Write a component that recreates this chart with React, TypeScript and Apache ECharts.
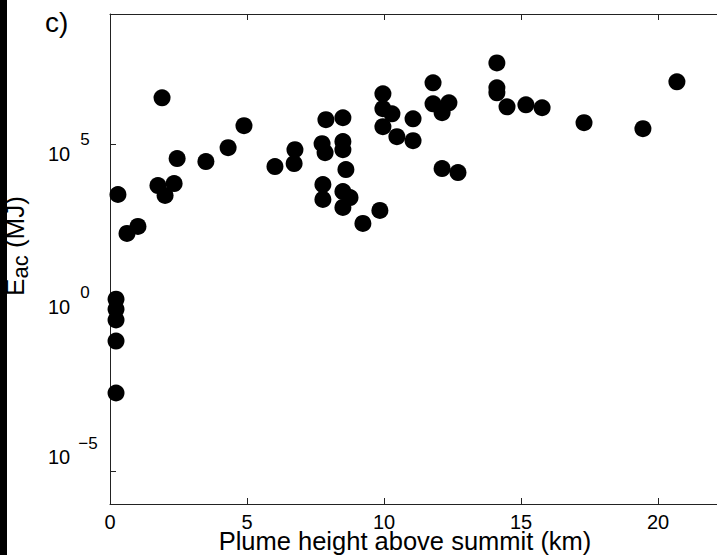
import React, { useEffect, useRef } from "react";
import * as echarts from "echarts";

// Plume height above summit (km)
const plumeHeightKm = [
  0.22, 0.22, 0.22, 0.22, 0.22, 0.29, 0.62, 1.02, 1.75, 2.01,
  2.34, 2.45, 3.5, 4.31, 1.9, 4.89, 6.02, 6.75, 6.72, 7.88,
  8.5, 7.74, 7.85, 8.5, 8.5, 8.61, 7.77, 7.77, 8.5, 8.76,
  8.5, 9.23, 9.85, 9.96, 9.96, 10.29, 9.96, 10.47, 11.06, 11.06,
  11.79, 11.79, 12.12, 12.37, 12.12, 12.7, 14.12, 14.12, 14.12, 14.49,
  15.18, 15.77, 17.3, 19.45, 20.69,
];

// Acoustic energy E_ac (MJ)
const energyMJ = [
  1.86, 0.92, 0.43, 0.097, 0.0025, 2980, 192, 315, 5600, 2780,
  6450, 37400, 30300, 81000, 2.72e6, 3.8e5, 21300, 70400, 26300, 5.8e5,
  6.67e5, 1.07e5, 57000, 1.24e5, 70400, 17300, 6020, 2100, 3680, 2410,
  1200, 388, 968, 3.6e6, 1.26e6, 8.8e5, 3.54e5, 1.75e5, 6.2e5, 1.32e5,
  7.8e6, 1.78e6, 9.5e5, 1.91e6, 18500, 14000, 3.18e7, 5.5e6, 3.86e6, 1.44e6,
  1.66e6, 1.35e6, 4.7e5, 3.08e5, 8.4e6,
];

const xTickStep = 5;
const xMin = 0;
const xMax = 25;
const yMin = 1e-6;
const yMax = 1e9;
const yDecadeStep = 1e5; // labelled ticks at 10^-5, 10^0, 10^5

const panelLabel = "c)";
const xTitle = "Plume height above summit (km)";

const FONT = "'Liberation Sans', Arial, Helvetica, sans-serif";

export default function App() {
  const ref = useRef<HTMLDivElement>(null);

  useEffect(() => {
    if (!ref.current) return;
    const chart = echarts.init(ref.current, undefined, { renderer: "svg" });

    const points = plumeHeightKm.map((x, i) => [x, energyMJ[i]]);
    const lineStyle = { color: "#222", width: 1 };

    const option: any = {
      animation: false,
      backgroundColor: "#fff",
      textStyle: { fontFamily: FONT },
      grid: {
        left: 110,
        right: -78,
        top: 14,
        bottom: 51,
        containLabel: false,
        outerBoundsMode: "none",
      },
      xAxis: [
        {
          type: "value",
          position: "bottom",
          min: xMin,
          max: xMax,
          interval: xTickStep,
          splitLine: { show: false },
          axisLine: { show: true, onZero: false, lineStyle },
          axisTick: { show: true, inside: true, length: 6, lineStyle },
          axisLabel: {
            color: "#000",
            fontSize: 20,
            lineHeight: 16,
            fontFamily: FONT,
            margin: 10,
            showMaxLabel: false,
          },
          name: xTitle,
          nameLocation: "middle",
          nameGap: 27,
          nameMoveOverlap: false,
          nameTextStyle: {
            color: "#000",
            fontSize: 25.5,
            lineHeight: 20,
            fontFamily: FONT,
            padding: [0, 95, 0, 0],
            verticalAlign: "top",
          },
        },
        {
          type: "value",
          position: "top",
          min: xMin,
          max: xMax,
          interval: xTickStep,
          splitLine: { show: false },
          axisLine: { show: true, onZero: false, lineStyle },
          axisTick: { show: true, inside: true, length: 6, lineStyle },
          axisLabel: { show: false },
        },
      ],
      yAxis: {
        type: "log",
        logBase: yDecadeStep,
        min: yMin,
        max: yMax,
        splitLine: { show: false },
        minorTick: { show: false },
        axisLine: { show: true, onZero: false, lineStyle },
        axisTick: { show: true, inside: true, length: 6, lineStyle },
        axisLabel: {
          showMinLabel: false,
          showMaxLabel: false,
          align: "left",
          margin: 62,
          color: "#000",
          fontFamily: FONT,
          formatter: (v: number) => {
            const e = Math.round(Math.log10(v));
            const k = e > 0 ? "p" : e < 0 ? "n" : "z";
            const t = e < 0 ? "\u2212" + Math.abs(e) : String(e);
            return `{b${k}|10}{e${k}|${t}}`;
          },
          rich: {
            bp: { fontSize: 20, lineHeight: 20, fontFamily: FONT, color: "#000", verticalAlign: "middle", padding: [18, 0, 0, 0] },
            ep: { fontSize: 17, lineHeight: 17, fontFamily: FONT, color: "#000", verticalAlign: "middle", padding: [0, 0, 10, 10] },
            bz: { fontSize: 20, lineHeight: 20, fontFamily: FONT, color: "#000", verticalAlign: "middle", padding: [0, 0, 2, 0] },
            ez: { fontSize: 17, lineHeight: 17, fontFamily: FONT, color: "#000", verticalAlign: "middle", padding: [0, 0, 31, 10] },
            bn: { fontSize: 20, lineHeight: 20, fontFamily: FONT, color: "#000", verticalAlign: "middle", padding: [0, 0, 28, 0] },
            en: { fontSize: 17, lineHeight: 17, fontFamily: FONT, color: "#000", verticalAlign: "middle", padding: [0, 0, 55, 8] },
          },
        },
        name: "{e|E}{s|ac}{m| (MJ)}",
        nameLocation: "middle",
        nameRotate: 90,
        nameGap: 82,
        nameMoveOverlap: false,
        nameTextStyle: {
          padding: [0, 0, 0, 26],
          rich: {
            e: { fontSize: 26, lineHeight: 26, fontFamily: FONT, color: "#000", verticalAlign: "middle" },
            s: { fontSize: 22, lineHeight: 22, fontFamily: FONT, color: "#000", verticalAlign: "middle", padding: [11, 0, 0, 0] },
            m: { fontSize: 26, lineHeight: 26, fontFamily: FONT, color: "#000", verticalAlign: "middle" },
          },
        },
      },
      series: [
        {
          type: "scatter",
          xAxisIndex: 0,
          symbol: "circle",
          symbolSize: 17,
          itemStyle: { color: "#000", opacity: 1 },
          data: points,
          clip: false,
        },
      ],
      graphic: [
        {
          type: "text",
          left: 45,
          top: 8,
          style: { text: panelLabel, fontSize: 28, fontFamily: FONT, fill: "#000" },
        },
        {
          type: "rect",
          left: 0,
          top: 0,
          z: 100,
          shape: { x: 0, y: 0, width: 7, height: 555 },
          style: { fill: "#000" },
        },
      ],
    };

    chart.setOption(option);
    return () => chart.dispose();
  }, []);

  return (
    <div
      ref={ref}
      style={{ position: "fixed", left: 0, top: 0, width: 717, height: 555, background: "#fff" }}
    />
  );
}
